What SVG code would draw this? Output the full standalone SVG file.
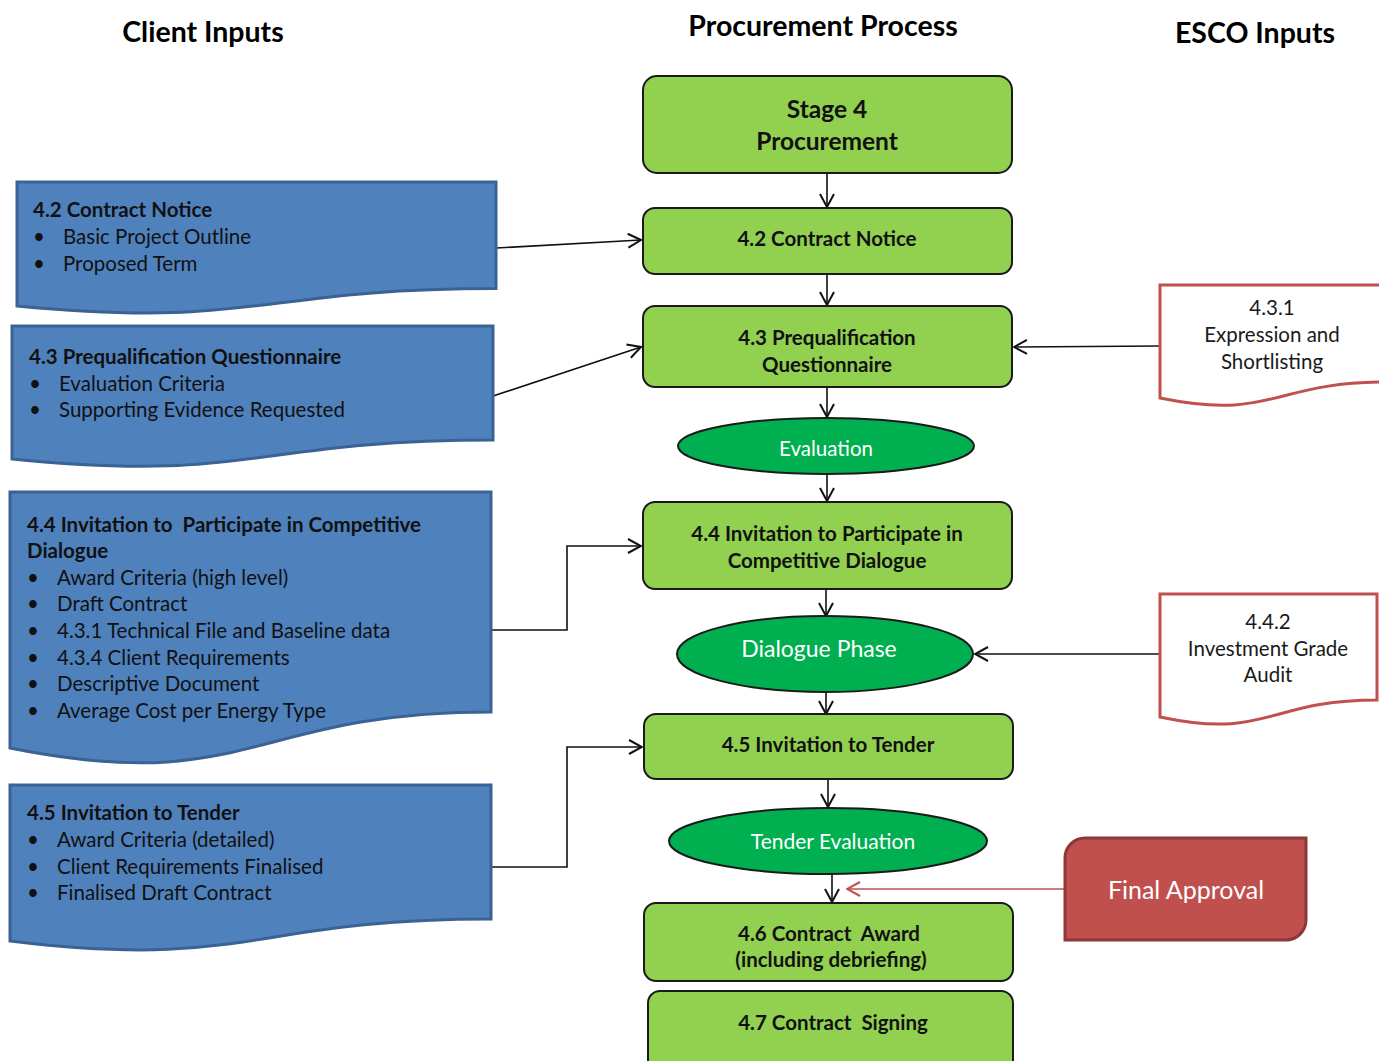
<svg xmlns="http://www.w3.org/2000/svg" width="1379" height="1061" viewBox="0 0 1379 1061">
<defs>
<marker id="ah" markerUnits="userSpaceOnUse" markerWidth="16" markerHeight="16" viewBox="0 0 16 16" refX="15" refY="8" orient="auto">
<path d="M2,1 L15,8 L2,15" fill="none" stroke="#111" stroke-width="2"/>
</marker>
<marker id="ahr" markerUnits="userSpaceOnUse" markerWidth="16" markerHeight="16" viewBox="0 0 16 16" refX="15" refY="8" orient="auto">
<path d="M2,1 L15,8 L2,15" fill="none" stroke="#c0504d" stroke-width="2"/>
</marker>
</defs>
<style>
text{font-family:Lato,"Open Sans","Liberation Sans",sans-serif;}
.hdr{font-size:28.5px;font-weight:bold;fill:#000;text-anchor:middle;}
.box{fill:#92d050;stroke:#1a1a1a;stroke-width:2;}
.ell{fill:#00b050;stroke:#1a1a1a;stroke-width:2;}
.bt{font-size:20.5px;font-weight:bold;fill:#111;text-anchor:middle;}
.bt.big{font-size:24.5px;}
.wt{fill:#fff;text-anchor:middle;}
.bdoc{fill:#4f81bd;stroke:#3a6293;stroke-width:3;}
.rdoc{fill:#fff;stroke:#c0504d;stroke-width:3;}
.dh{font-size:20.5px;font-weight:bold;fill:#111;}
.di{font-size:20.5px;fill:#111;}
.rt{font-size:20.5px;fill:#1a1a1a;text-anchor:middle;}
.con{fill:none;stroke:#111;stroke-width:1.6;marker-end:url(#ah);}
.conr{fill:none;stroke:#c0504d;stroke-width:1.6;marker-end:url(#ahr);}
</style>
<rect width="1379" height="1061" fill="#fff"/>
<g id="headers">
<text class="hdr" x="203" y="42">Client Inputs</text>
<text class="hdr" x="823" y="36">Procurement Process</text>
<text class="hdr" x="1255" y="43">ESCO Inputs</text>
</g>
<g id="connectors">
<line class="con" x1="827" y1="173" x2="827" y2="207"/>
<line class="con" x1="827" y1="274" x2="827" y2="305"/>
<line class="con" x1="827" y1="387" x2="827" y2="417"/>
<line class="con" x1="827" y1="474" x2="827" y2="501"/>
<line class="con" x1="826" y1="589" x2="826" y2="616"/>
<line class="con" x1="826" y1="692" x2="826" y2="714"/>
<line class="con" x1="828" y1="779" x2="828" y2="807"/>
<line class="con" x1="832" y1="874" x2="832" y2="902"/>
<line class="con" x1="496" y1="248" x2="641" y2="240"/>
<line class="con" x1="493" y1="396" x2="641" y2="347"/>
<polyline class="con" points="491,630 567,630 567,546 641,546"/>
<polyline class="con" points="491,867 567,867 567,747 642,747"/>
<line class="con" x1="1160" y1="346" x2="1014" y2="347"/>
<line class="con" x1="1160" y1="654" x2="975" y2="654"/>
<line class="conr" x1="1065" y1="889" x2="847" y2="889"/>
</g>
<g id="stage4">
<rect class="box" x="643" y="76" width="369" height="97" rx="14"/>
<text class="bt big" x="827" y="118">Stage 4</text>
<text class="bt big" x="827" y="150">Procurement</text>
</g>
<g id="p42">
<rect class="box" x="643" y="208" width="369" height="66" rx="12"/>
<text class="bt" x="827" y="246">4.2 Contract Notice</text>
</g>
<g id="p43">
<rect class="box" x="643" y="306" width="369" height="81" rx="12"/>
<text class="bt" x="827" y="345">4.3 Prequalification</text>
<text class="bt" x="827" y="372">Questionnaire</text>
</g>
<g id="evaluation">
<ellipse class="ell" cx="826" cy="446" rx="148" ry="28"/>
<text class="wt" x="826" y="456" font-size="20.5">Evaluation</text>
</g>
<g id="p44">
<rect class="box" x="643" y="502" width="369" height="87" rx="12"/>
<text class="bt" x="827" y="541">4.4 Invitation to Participate in</text>
<text class="bt" x="827" y="568">Competitive Dialogue</text>
</g>
<g id="dialogue">
<ellipse class="ell" cx="825" cy="654" rx="148" ry="38"/>
<text class="wt" x="819" y="657" font-size="23">Dialogue Phase</text>
</g>
<g id="tendereval">
<ellipse class="ell" cx="828" cy="841" rx="159" ry="33"/>
<text class="wt" x="833" y="849" font-size="21">Tender Evaluation</text>
</g>
<g id="p45">
<rect class="box" x="644" y="714" width="369" height="65" rx="12"/>
<text class="bt" x="828" y="752">4.5 Invitation to Tender</text>
</g>
<g id="p46">
<rect class="box" x="644" y="903" width="369" height="78" rx="12"/>
<text class="bt" x="829" y="941">4.6 Contract&#160; Award</text>
<text class="bt" x="831" y="967">(including debriefing)</text>
</g>
<g id="p47">
<rect class="box" x="648" y="991" width="365" height="90" rx="12"/>
<text class="bt" x="833" y="1030">4.7 Contract&#160; Signing</text>
</g>
<g id="c42">
<path class="bdoc" d="M17,182 H496 V288.6 C256,288.6 256,329 17,306 Z"/>
<text class="dh" x="33" y="217">4.2 Contract Notice</text>
<text class="di" x="33" y="244">•</text><text class="di" x="63" y="244">Basic Project Outline</text>
<text class="di" x="33" y="271">•</text><text class="di" x="63" y="271">Proposed Term</text>
</g>
<g id="c43">
<path class="bdoc" d="M12,326 H493 V440 C252,440 252,483 12,459 Z"/>
<text class="dh" x="29" y="364">4.3 Prequalification Questionnaire</text>
<text class="di" x="29" y="391">•</text><text class="di" x="59" y="391">Evaluation Criteria</text>
<text class="di" x="29" y="417">•</text><text class="di" x="59" y="417">Supporting Evidence Requested</text>
</g>
<g id="c44">
<path class="bdoc" d="M10,492 H491 V712 C250,712 250,796 10,748 Z"/>
<text class="dh" x="27" y="532">4.4 Invitation to&#160; Participate in Competitive</text>
<text class="dh" x="27" y="558">Dialogue</text>
<text class="di" x="27" y="585">•</text><text class="di" x="57" y="585">Award Criteria (high level)</text>
<text class="di" x="27" y="611">•</text><text class="di" x="57" y="611">Draft Contract</text>
<text class="di" x="27" y="638">•</text><text class="di" x="57" y="638">4.3.1 Technical File and Baseline data</text>
<text class="di" x="27" y="665">•</text><text class="di" x="57" y="665">4.3.4 Client Requirements</text>
<text class="di" x="27" y="691">•</text><text class="di" x="57" y="691">Descriptive Document</text>
<text class="di" x="27" y="718">•</text><text class="di" x="57" y="718">Average Cost per Energy Type</text>
</g>
<g id="c45">
<path class="bdoc" d="M10,785 H491 V919 C250,919 250,970 10,941 Z"/>
<text class="dh" x="27" y="820">4.5 Invitation to Tender</text>
<text class="di" x="27" y="847">•</text><text class="di" x="57" y="847">Award Criteria (detailed)</text>
<text class="di" x="27" y="874">•</text><text class="di" x="57" y="874">Client Requirements Finalised</text>
<text class="di" x="27" y="900">•</text><text class="di" x="57" y="900">Finalised Draft Contract</text>
</g>
<g id="e431">
<path class="rdoc" d="M1160,285 H1386 V382 C1273,382 1273,421 1160,398 Z"/>
<text class="rt" x="1272" y="315">4.3.1</text>
<text class="rt" x="1272" y="342">Expression and</text>
<text class="rt" x="1272" y="369">Shortlisting</text>
</g>
<g id="e442">
<path class="rdoc" d="M1160,594 H1377 V700 C1268,700 1268,740 1160,717 Z"/>
<text class="rt" x="1268" y="629">4.4.2</text>
<text class="rt" x="1268" y="656">Investment Grade</text>
<text class="rt" x="1268" y="682">Audit</text>
</g>
<g id="finalapproval">
<path d="M1085,838 H1306 V920 A20,20 0 0 1 1286,940 H1065 V858 A20,20 0 0 1 1085,838 Z" fill="#c0504d" stroke="#8c3836" stroke-width="3"/>
<text class="wt" x="1186" y="899" font-size="25">Final Approval</text>
</g>
</svg>
